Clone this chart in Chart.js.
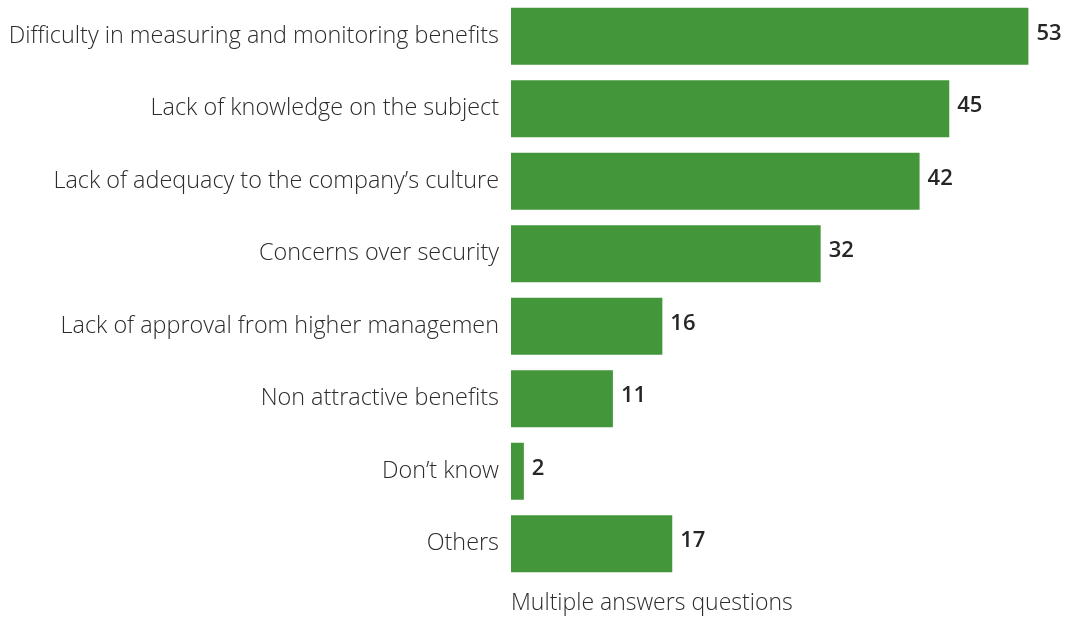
<!DOCTYPE html>
<html>
<head>
<meta charset="utf-8">
<script src="https://cdn.jsdelivr.net/npm/chart.js@4.4.1/dist/chart.umd.min.js"></script>
<style>
  html, body { margin: 0; padding: 0; background: #fff; }
  #wrap { width: 1066px; height: 617px; position: relative; }
</style>
</head>
<body>
<div id="wrap"><canvas id="barriersChart"></canvas></div>
<script>
var reasons = [
    "Difficulty in measuring and monitoring benefits",
    "Lack of knowledge on the subject",
    "Lack of adequacy to the company\u2019s culture",
    "Concerns over security",
    "Lack of approval from higher managemen",
    "Non attractive benefits",
    "Don\u2019t know",
    "Others"
];
var answers = [53, 45, 42, 32, 16, 11, 2, 17];
var footNote = "Multiple answers questions";

var barGreen = "#43963a",
    textGrey = "#2b2b2b";

// writes the count just past the end of each bar
var valueLabels = {
    id: "valueLabels",
    afterDatasetsDraw: function(chart) {
        var ctx = chart.ctx,
            meta = chart.getDatasetMeta(0);
        ctx.save();
        ctx.font = "600 22px 'Open Sans'";
        ctx.fillStyle = "#262626";
        ctx.textAlign = "left";
        ctx.textBaseline = "middle";
        meta.data.forEach(function(bar, i) {
            ctx.fillText(answers[i], bar.x + 8, bar.y - 3);
        });
        ctx.restore();
    }
};

var ctx = document.getElementById("barriersChart");
window.barriersChart = new Chart(ctx, {
    type: "bar",
    data: {
        labels: reasons,
        datasets: [{
            data: answers,
            backgroundColor: barGreen,
            borderWidth: 0,
            categoryPercentage: 1,
            barPercentage: 0.786
        }]
    },
    options: {
        indexAxis: "y",
        responsive: true,
        maintainAspectRatio: false,
        animation: false,
        layout: { padding: { top: 0, right: 0, bottom: 0, left: 0 } },
        plugins: {
            legend: { display: false },
            tooltip: { enabled: false }
        },
        scales: {
            x: {
                min: 0.7,
                max: 56.8,
                grid: { display: false, drawTicks: false },
                border: { display: false },
                ticks: { display: false },
                title: {
                    display: true,
                    text: footNote,
                    align: "start",
                    color: textGrey,
                    font: { family: "'Open Sans'", size: 23, weight: 300 },
                    padding: { top: 5, bottom: 0 }
                },
                afterFit: function(scale) { scale.height = 37; }
            },
            y: {
                grid: { display: false, drawTicks: false },
                border: { display: false },
                ticks: {
                    color: textGrey,
                    padding: 12,
                    font: { family: "'Open Sans'", size: 23.4, weight: 300 }
                },
                afterFit: function(scale) {
                    scale.width = 511;
                    scale.paddingTop = 0;
                    scale.paddingBottom = 0;
                }
            }
        }
    },
    plugins: [valueLabels]
});
</script>
</body>
</html>
